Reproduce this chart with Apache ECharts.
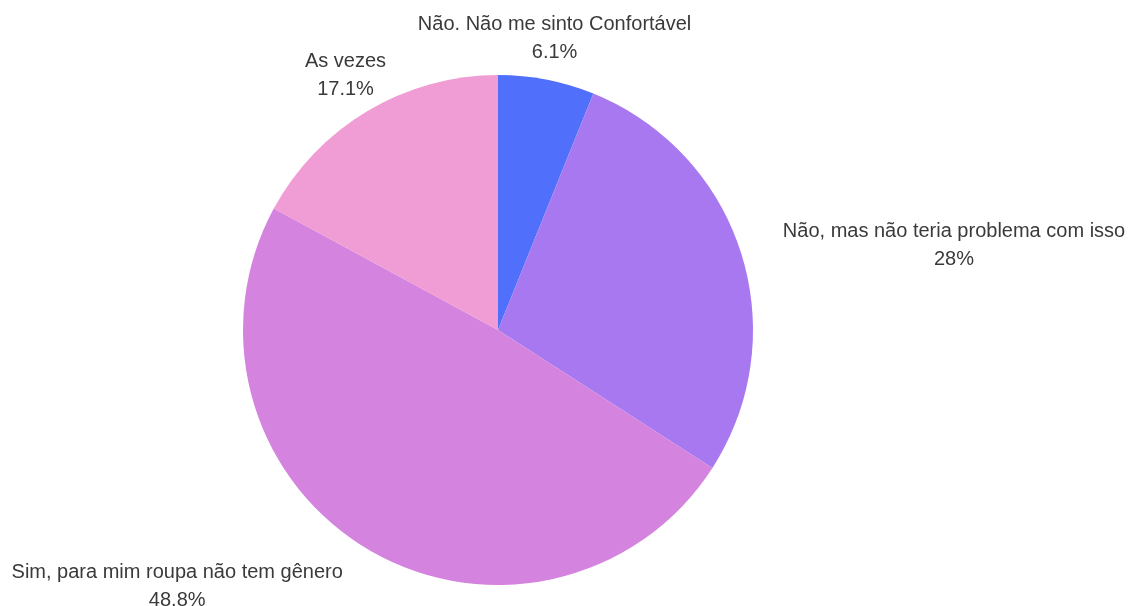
<!DOCTYPE html>
<html>
<head>
<meta charset="utf-8">
<script src="https://cdn.jsdelivr.net/npm/echarts@6/dist/echarts.min.js"></script>
<style>
  html, body { margin: 0; padding: 0; background: #ffffff; }
  #chart { width: 1132px; height: 606px; }
</style>
</head>
<body>
<div id="chart"></div>
<script>
// Answers, in clockwise order starting at 12 o'clock
const categories = [
  'Não. Não me sinto Confortável',
  'Não, mas não teria problema com isso',
  'Sim, para mim roupa não tem gênero',
  'As vezes'
];
const shares = [6.1, 28, 48.8, 17.1];
const sliceColors = ['#5070fb', '#a878f0', '#d483de', '#f09cd5'];

// Pie geometry (pixels)
const pieCenter = [498, 330];
const pieRadius = 255;
// Where each label block sits, relative to the rim point at the slice's mid-angle
const labelOffsets = [[8, -41], [213, -7], [-191, 37], [-22, -35]];

const total = shares.reduce((a, b) => a + b, 0);
function rimPoint(i) {
  let before = 0;
  for (let k = 0; k < i; k++) before += shares[k];
  const mid = (before + shares[i] / 2) / total * Math.PI * 2; // clockwise from top
  return [pieCenter[0] + pieRadius * Math.sin(mid), pieCenter[1] - pieRadius * Math.cos(mid)];
}

const chart = echarts.init(document.getElementById('chart'), null, { renderer: 'canvas' });
chart.setOption({
  animation: false,
  backgroundColor: '#ffffff',
  series: [{
    type: 'pie',
    center: pieCenter,
    radius: pieRadius,
    startAngle: 90,
    clockwise: true,
    avoidLabelOverlap: false,
    data: categories.map((name, i) => ({
      name: name,
      value: shares[i],
      itemStyle: { color: sliceColors[i] }
    })),
    itemStyle: { borderWidth: 0 },
    emphasis: { disabled: true },
    label: {
      show: true,
      position: 'outside',
      formatter: p => p.name + '\n' + p.value + '%',
      fontFamily: 'Liberation Sans, Arial, sans-serif',
      fontSize: 20,
      lineHeight: 28,
      color: '#3a3a3a'
    },
    labelLine: { show: false },
    labelLayout: function (params) {
      const i = params.dataIndex;
      const p = rimPoint(i);
      return {
        x: p[0] + labelOffsets[i][0],
        y: p[1] + labelOffsets[i][1],
        align: 'center',
        verticalAlign: 'middle'
      };
    }
  }]
});
</script>
</body>
</html>
